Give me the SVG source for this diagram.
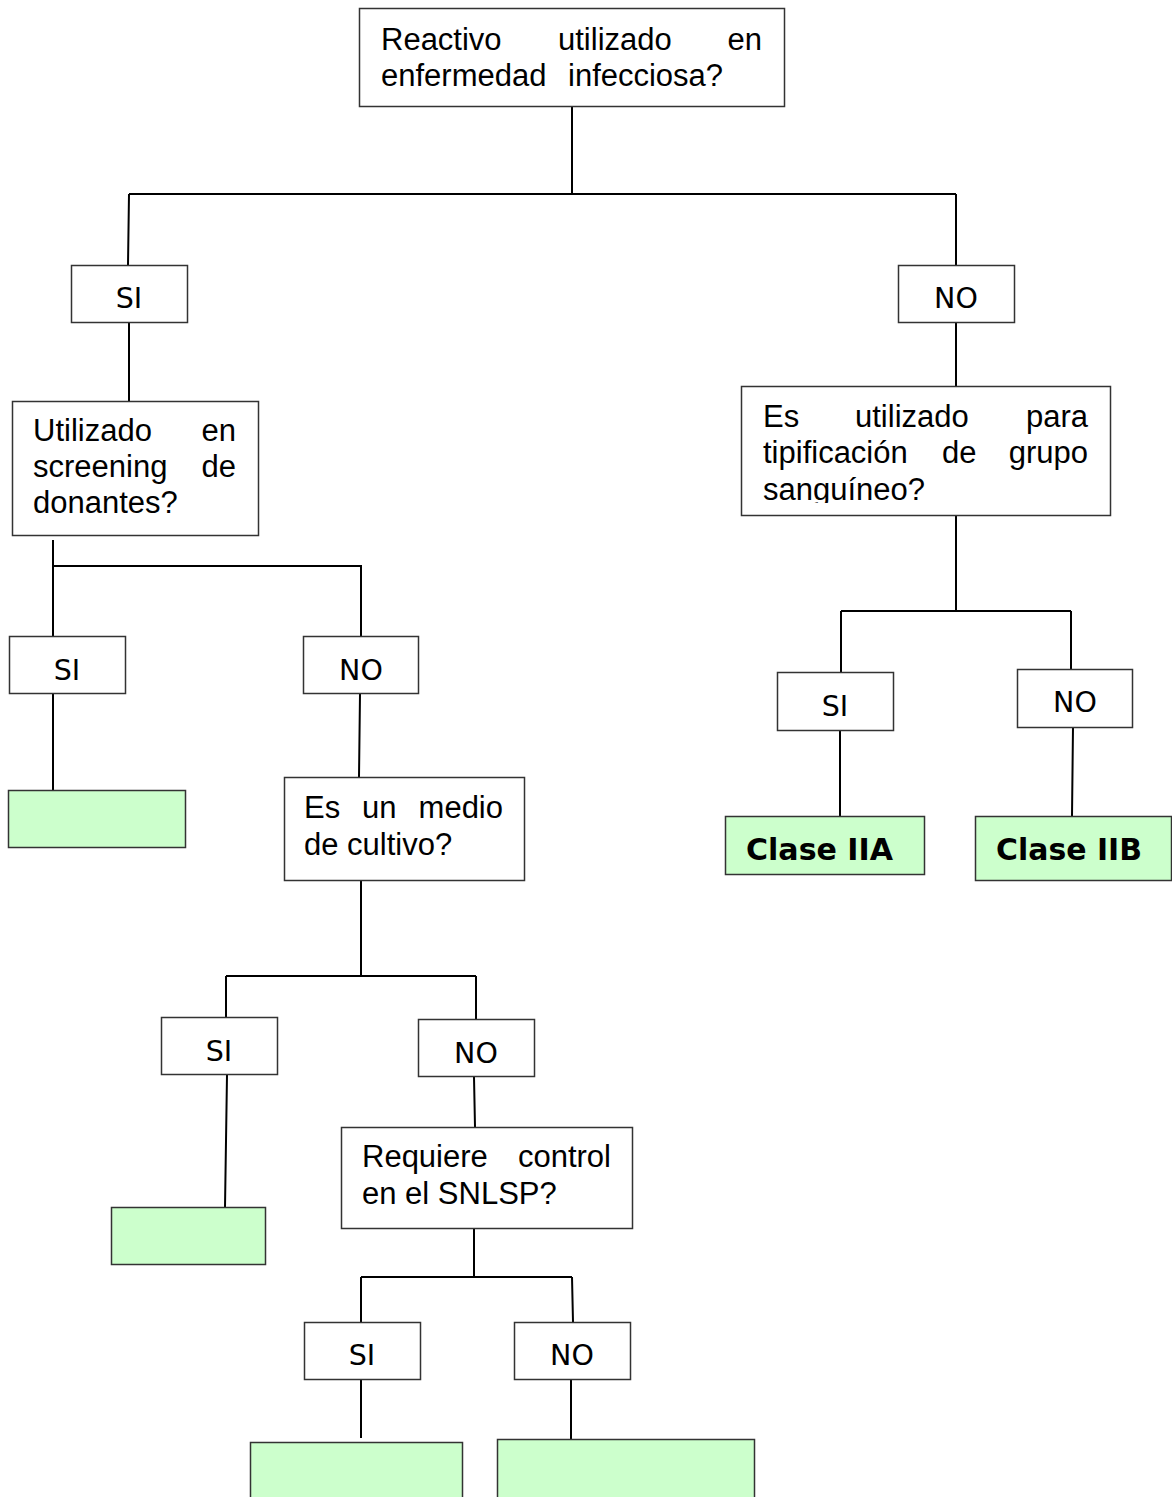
<svg xmlns="http://www.w3.org/2000/svg" width="1172" height="1497" viewBox="0 0 1172 1497">
<style>
.box{fill:#fff;stroke:#333;stroke-width:1.5}
.leaf{fill:#ccffcc;stroke:#333;stroke-width:1.5}
.q{font-family:"Liberation Sans",Arial,sans-serif;font-size:31px;fill:#000}
.yn{font-family:"DejaVu Sans",Tahoma,Verdana,sans-serif;font-size:28.5px;fill:#000;text-anchor:middle}
.cl{font-family:"DejaVu Sans",Tahoma,Verdana,sans-serif;font-size:31px;font-weight:bold;fill:#000}
.e{text-anchor:end}
#connectors path{fill:none;stroke:#000;stroke-width:2}
</style>
<defs>
<clipPath id="clipR"><rect x="742" y="387" width="367" height="116"/></clipPath>
</defs>
<rect width="1172" height="1497" fill="#fff"/>
<g id="connectors">
<path d="M572 106V194M129 194H956M129 194L128 265M956 194V265"/>
<path d="M129 322V401M956 322V386"/>
<path d="M53 540V636M53 566H361V636"/>
<path d="M53 694V790M360 694L359 777"/>
<path d="M361 880V976M226 976H476M226 976V1017M476 976V1019"/>
<path d="M227 1075L225 1207M474 1077L475 1127"/>
<path d="M474 1228V1277M361 1277H572M361 1277V1322M572 1277L573 1322"/>
<path d="M361 1380V1438M571 1380V1439"/>
<path d="M956 515V611M841 611H1071M841 611V672M1071 611V669"/>
<path d="M840 730V816M1073 727L1072 816"/>
</g>
<g id="q-root">
<rect class="box" x="359.5" y="8.5" width="425" height="98"/>
<text class="q" x="381" y="50">Reactivo</text>
<text class="q" x="558" y="50">utilizado</text>
<text class="q e" x="762" y="50">en</text>
<text class="q" x="381" y="86">enfermedad</text>
<text class="q" x="568" y="86">infecciosa?</text>
</g>
<g id="si-1">
<rect class="box" x="71.5" y="265.5" width="116" height="57"/>
<text class="yn" x="129" y="308">SI</text>
</g>
<g id="no-1">
<rect class="box" x="898.5" y="265.5" width="116" height="57"/>
<text class="yn" x="956" y="308">NO</text>
</g>
<g id="q-screening">
<rect class="box" x="12.5" y="401.5" width="246" height="134"/>
<text class="q" x="33" y="441">Utilizado</text>
<text class="q e" x="236" y="441">en</text>
<text class="q" x="33" y="477">screening</text>
<text class="q e" x="236" y="477">de</text>
<text class="q" x="33" y="513">donantes?</text>
</g>
<g id="si-2">
<rect class="box" x="9.5" y="636.5" width="116" height="57"/>
<text class="yn" x="67" y="680">SI</text>
</g>
<g id="no-2">
<rect class="box" x="303.5" y="636.5" width="115" height="57"/>
<text class="yn" x="361" y="680">NO</text>
</g>
<g id="leaf-1">
<rect class="leaf" x="8.5" y="790.5" width="177" height="57"/>
</g>
<g id="q-cultivo">
<rect class="box" x="284.5" y="777.5" width="240" height="103"/>
<text class="q" x="304" y="818">Es</text>
<text class="q" x="362" y="818">un</text>
<text class="q e" x="503" y="818">medio</text>
<text class="q" x="304" y="855">de cultivo?</text>
</g>
<g id="si-3">
<rect class="box" x="161.5" y="1017.5" width="116" height="57"/>
<text class="yn" x="219" y="1061">SI</text>
</g>
<g id="no-3">
<rect class="box" x="418.5" y="1019.5" width="116" height="57"/>
<text class="yn" x="476" y="1063">NO</text>
</g>
<g id="leaf-2">
<rect class="leaf" x="111.5" y="1207.5" width="154" height="57"/>
</g>
<g id="q-snlsp">
<rect class="box" x="341.5" y="1127.5" width="291" height="101"/>
<text class="q" x="362" y="1167">Requiere</text>
<text class="q e" x="611" y="1167">control</text>
<text class="q" x="362" y="1204">en el SNLSP?</text>
</g>
<g id="si-4">
<rect class="box" x="304.5" y="1322.5" width="116" height="57"/>
<text class="yn" x="362" y="1365">SI</text>
</g>
<g id="no-4">
<rect class="box" x="514.5" y="1322.5" width="116" height="57"/>
<text class="yn" x="572" y="1365">NO</text>
</g>
<g id="leaf-3">
<rect class="leaf" x="250.5" y="1442.5" width="212" height="60"/>
</g>
<g id="leaf-4">
<rect class="leaf" x="497.5" y="1439.5" width="257" height="63"/>
</g>
<g id="q-grupo">
<rect class="box" x="741.5" y="386.5" width="369" height="129"/>
<g clip-path="url(#clipR)">
<text class="q" x="763" y="427">Es</text>
<text class="q" x="855" y="427">utilizado</text>
<text class="q e" x="1088" y="427">para</text>
<text class="q" x="763" y="463">tipificación</text>
<text class="q" x="942" y="463">de</text>
<text class="q e" x="1088" y="463">grupo</text>
<text class="q" x="763" y="500">sanguíneo?</text>
</g>
</g>
<g id="si-5">
<rect class="box" x="777.5" y="672.5" width="116" height="58"/>
<text class="yn" x="835" y="716">SI</text>
</g>
<g id="no-5">
<rect class="box" x="1017.5" y="669.5" width="115" height="58"/>
<text class="yn" x="1075" y="712">NO</text>
</g>
<g id="leaf-iia">
<rect class="leaf" x="725.5" y="816.5" width="199" height="58"/>
<text class="cl" x="746" y="860" textLength="147" lengthAdjust="spacingAndGlyphs">Clase IIA</text>
</g>
<g id="leaf-iib">
<rect class="leaf" x="975.5" y="816.5" width="196" height="64"/>
<text class="cl" x="996" y="860" textLength="146" lengthAdjust="spacingAndGlyphs">Clase IIB</text>
</g>
</svg>
